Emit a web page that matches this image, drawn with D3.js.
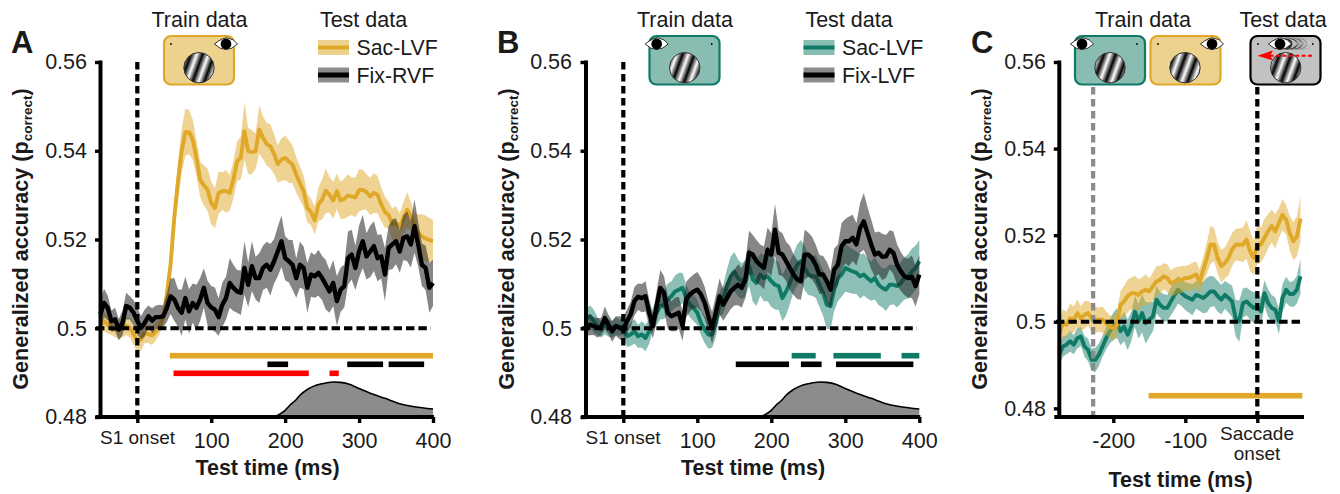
<!DOCTYPE html>
<html><head><meta charset="utf-8">
<script src="https://cdn.jsdelivr.net/npm/d3@7"></script>
<style>
html,body{margin:0;padding:0;background:#fff;overflow:hidden}
text{font-family:"Liberation Sans",Arial,sans-serif;fill:#1a1a1a}
</style></head><body><svg id="c" width="1340" height="494"></svg>
<script>
// ---------- DATA ----------
const sacLvfA=[.5008,.5016,.5008,.5001,.4998,.4996,.5002,.5005,.5001,.4986,
.4972,.4974,.4989,.4987,.4984,.4993,.5005,.5023,.5076,.5143,
.5249,.5331,.5399,.5442,.5442,.5425,.5384,.5335,.5322,.5312,
.5282,.5271,.5305,.5309,.5309,.5305,.5335,.5376,.5384,.5444,
.5399,.5397,.5399,.5448,.5429,.5415,.5410,.5393,.5370,.5380,
.5384,.5376,.5369,.5346,.5327,.5309,.5271,.5262,.5243,.5279,
.5290,.5310,.5301,.5288,.5309,.5288,.5292,.5299,.5297,.5295,
.5311,.5312,.5307,.5297,.5305,.5301,.5279,.5262,.5255,.5235,
.5237,.5228,.5249,.5267,.5252,.5230,.5215,.5207,.5202,.5199,
.5196];
const sacLvfAErr=[.0018,.0022,.0020,.0016,.0018,.0020,.0022,.0020,.0022,.0024,
.0026,.0024,.0022,.0020,.0022,.0020,.0018,.0016,.0020,.0025,
.0035,.0045,.0050,.0053,.0050,.0045,.0040,.0040,.0045,.0048,
.0048,.0045,.0048,.0042,.0048,.0040,.0042,.0045,.0048,.0065,
.0052,.0050,.0040,.0055,.0048,.0048,.0050,.0045,.0042,.0048,
.0050,.0048,.0042,.0040,.0038,.0035,.0032,.0030,.0032,.0038,
.0045,.0050,.0040,.0042,.0040,.0042,.0045,.0048,.0042,.0045,
.0048,.0045,.0040,.0042,.0045,.0042,.0038,.0035,.0030,.0035,
.0038,.0032,.0035,.0040,.0032,.0030,.0042,.0050,.0052,.0050,
.0048];
const fixRvfA=[.5031,.5057,.5046,.5016,.5020,.4997,.5012,.5050,.5046,.5035,
.5016,.5001,.5012,.5027,.5017,.5025,.5025,.5027,.5046,.5072,
.5065,.5046,.5035,.5068,.5038,.5057,.5046,.5065,.5091,.5057,
.5047,.5042,.5025,.5053,.5068,.5102,.5091,.5083,.5080,.5136,
.5098,.5140,.5113,.5113,.5136,.5143,.5132,.5151,.5173,.5196,
.5158,.5151,.5143,.5113,.5143,.5136,.5091,.5121,.5117,.5125,
.5113,.5098,.5083,.5102,.5061,.5087,.5095,.5158,.5166,.5136,
.5173,.5196,.5162,.5173,.5185,.5158,.5162,.5121,.5181,.5189,
.5196,.5173,.5204,.5207,.5189,.5230,.5189,.5143,.5136,.5091,
.5102];
const fixRvfAErr=[.0030,.0032,.0028,.0024,.0026,.0024,.0028,.0030,.0026,.0028,
.0030,.0026,.0030,.0024,.0028,.0026,.0028,.0024,.0032,.0040,
.0048,.0042,.0052,.0048,.0050,.0044,.0052,.0048,.0044,.0050,
.0048,.0050,.0042,.0050,.0048,.0056,.0052,.0048,.0050,.0060,
.0050,.0056,.0048,.0056,.0050,.0052,.0058,.0050,.0056,.0058,
.0050,.0048,.0056,.0044,.0052,.0048,.0056,.0050,.0048,.0052,
.0050,.0056,.0048,.0052,.0056,.0050,.0048,.0060,.0056,.0050,
.0058,.0060,.0052,.0058,.0056,.0052,.0050,.0060,.0050,.0056,
.0052,.0048,.0050,.0056,.0052,.0060,.0050,.0048,.0050,.0056,
.0052];
const sacLvfB=[.5023,.5027,.5016,.5005,.4997,.5008,.5001,.4997,.5005,.5001,
.5005,.4982,.4986,.4993,.4982,.4986,.4978,.4993,.5020,.5035,
.5050,.5053,.5065,.5072,.5083,.5087,.5091,.5068,.5053,.5046,
.5035,.5012,.4997,.4986,.4986,.5012,.5053,.5065,.5095,.5117,
.5128,.5113,.5106,.5113,.5140,.5110,.5102,.5121,.5113,.5117,
.5106,.5098,.5095,.5068,.5083,.5102,.5125,.5143,.5151,.5136,
.5121,.5117,.5117,.5098,.5080,.5053,.5050,.5087,.5113,.5121,
.5136,.5132,.5128,.5125,.5117,.5121,.5113,.5106,.5113,.5098,
.5091,.5087,.5098,.5098,.5095,.5102,.5113,.5117,.5128,.5136,
.5151];
const sacLvfBErr=[.0022,.0024,.0026,.0020,.0018,.0022,.0020,.0018,.0020,.0018,
.0020,.0024,.0026,.0028,.0026,.0030,.0030,.0028,.0026,.0028,
.0030,.0032,.0036,.0034,.0036,.0038,.0034,.0030,.0028,.0030,
.0028,.0028,.0030,.0032,.0030,.0032,.0028,.0032,.0038,.0044,
.0044,.0042,.0040,.0042,.0044,.0050,.0052,.0048,.0052,.0056,
.0058,.0056,.0054,.0052,.0054,.0048,.0044,.0046,.0048,.0050,
.0046,.0044,.0048,.0050,.0052,.0054,.0052,.0048,.0052,.0050,
.0054,.0052,.0050,.0048,.0050,.0048,.0046,.0044,.0048,.0046,
.0044,.0048,.0046,.0044,.0048,.0046,.0048,.0050,.0052,.0050,
.0048];
const fixLvfB=[.5005,.5008,.5005,.5001,.5003,.5023,.5008,.4993,.5005,.5001,
.4997,.5016,.5031,.5061,.5071,.5068,.5072,.5035,.5005,.5050,
.5091,.5080,.5035,.5027,.5031,.5035,.5005,.5065,.5076,.5083,
.5087,.5076,.5057,.5027,.5001,.5035,.5072,.5053,.5068,.5083,
.5091,.5098,.5091,.5110,.5170,.5166,.5151,.5143,.5136,.5177,
.5166,.5222,.5170,.5166,.5151,.5136,.5121,.5110,.5106,.5166,
.5166,.5158,.5143,.5121,.5121,.5106,.5087,.5132,.5143,.5185,
.5196,.5196,.5204,.5189,.5226,.5241,.5215,.5189,.5166,.5170,
.5161,.5162,.5177,.5170,.5143,.5128,.5117,.5113,.5116,.5095,
.5121];
const fixLvfBErr=[.0022,.0024,.0020,.0022,.0020,.0026,.0022,.0024,.0022,.0026,
.0028,.0026,.0028,.0032,.0030,.0032,.0034,.0030,.0028,.0034,
.0040,.0038,.0036,.0034,.0038,.0036,.0034,.0040,.0038,.0038,
.0040,.0038,.0036,.0034,.0036,.0038,.0040,.0036,.0038,.0040,
.0040,.0046,.0044,.0042,.0050,.0044,.0048,.0046,.0048,.0050,
.0048,.0058,.0050,.0048,.0044,.0050,.0046,.0044,.0042,.0056,
.0050,.0048,.0046,.0044,.0042,.0044,.0042,.0048,.0046,.0052,
.0050,.0056,.0052,.0048,.0056,.0064,.0058,.0056,.0050,.0048,
.0052,.0048,.0044,.0048,.0046,.0044,.0042,.0044,.0048,.0046,
.0044];
const sacLvfC=[.4970,.4997,.4993,.5008,.5005,.5020,.5008,.5016,.5020,.5008,
.5005,.5005,.5005,.4997,.4989,.4985,.4993,.5039,.5047,.5059,
.5066,.5066,.5062,.5070,.5074,.5070,.5082,.5093,.5097,.5105,
.5101,.5089,.5093,.5097,.5097,.5101,.5101,.5105,.5109,.5093,
.5120,.5147,.5178,.5178,.5147,.5128,.5136,.5147,.5167,.5178,
.5178,.5178,.5190,.5163,.5147,.5178,.5178,.5194,.5209,.5221,
.5209,.5228,.5247,.5236,.5205,.5186,.5197,.5238];
const sacLvfCErr=[.0030,.0032,.0030,.0034,.0030,.0032,.0028,.0032,.0028,.0034,
.0030,.0028,.0030,.0028,.0026,.0028,.0030,.0032,.0036,.0038,
.0036,.0040,.0036,.0032,.0036,.0030,.0032,.0036,.0032,.0030,
.0032,.0030,.0032,.0030,.0032,.0028,.0030,.0032,.0030,.0028,
.0032,.0036,.0044,.0038,.0036,.0038,.0036,.0040,.0038,.0036,
.0038,.0040,.0044,.0046,.0040,.0046,.0040,.0044,.0040,.0038,
.0040,.0034,.0036,.0034,.0040,.0044,.0046,.0052];
const teal_C=[.4924,.4943,.4947,.4955,.4947,.4962,.4966,.4943,.4935,.4912,
.4912,.4924,.4943,.4962,.4978,.4989,.4997,.4978,.4989,.4970,
.4989,.5024,.5001,.5020,.4997,.5005,.5012,.5051,.5039,.5032,
.5032,.5047,.5062,.5074,.5066,.5059,.5055,.5051,.5062,.5059,
.5055,.5062,.5070,.5070,.5059,.5051,.5062,.5055,.5047,.5008,
.5001,.5043,.5047,.5039,.5032,.5035,.5024,.5066,.5043,.5032,
.5028,.5001,.5055,.5074,.5064,.5064,.5074,.5105];
const teal_CErr=[.0026,.0024,.0022,.0024,.0022,.0024,.0022,.0024,.0026,.0026,
.0028,.0026,.0024,.0026,.0028,.0032,.0034,.0032,.0034,.0036,
.0034,.0036,.0040,.0044,.0048,.0040,.0034,.0032,.0030,.0032,
.0030,.0032,.0034,.0032,.0030,.0032,.0034,.0036,.0032,.0034,
.0036,.0040,.0036,.0034,.0036,.0034,.0032,.0034,.0036,.0042,
.0048,.0034,.0032,.0034,.0036,.0034,.0032,.0030,.0032,.0030,
.0028,.0030,.0032,.0030,.0028,.0030,.0032,.0040];
const densityTimes=[185,190,200,206,213,220,230,238,250,265,275,288,300,319,335,355,375,400];
const densityValues=[.4800,.4804,.4815,.4826,.4836,.4849,.4862,.4869,.4875,.4879,.4878,.4873,.4864,.4851,.4842,.4830,.4823,.4818];
const sigGoldA=[[44,400]];
const sigBlackA=[[176,204],[284,332.5],[340,388]];
const sigRedA=[[49,232],[260,272.5]];
const sigTealB=[[227.5,260],[284,348],[376,400]];
const sigBlackB=[[152,224],[240,268],[287.5,392]];
const sigGoldC=[[-151,62.5]];
const timesAB=d3.range(-50,401,5);
const timesC=d3.range(-275,61,5);
const yTicks=[.48,.5,.52,.54,.56];
const xTicksAB=[100,200,300,400];
const xTicksC=[-200,-100];
const GOLD='#DFA828',TEAL='#0F7A66',GOLDF='#EDD28E',TEALF='#8ABDB2';

// ---------- DRAW ----------
const svg=d3.select('#c');
const defs=svg.append('defs');
const gr=defs.append('linearGradient').attr('id','grating').attr('gradientUnits','userSpaceOnUse')
 .attr('x1',0).attr('y1',0).attr('x2',11).attr('y2',0).attr('spreadMethod','repeat')
 .attr('gradientTransform','rotate(20)');
[[0,'#000'],[.5,'#fff'],[1,'#000']].forEach(s=>gr.append('stop').attr('offset',s[0]).attr('stop-color',s[1]));

const fmtY=d=>d===.5?'0.5':d3.format('.2f')(d);
function sigBars(g,x,segs,y,c){
 g.selectAll(null).data(segs).join('rect').attr('x',d=>x(d[0])).attr('width',d=>x(d[1])-x(d[0]))
  .attr('y',y-2.8).attr('height',5.6).attr('fill',c);
}
function band(g,x,y,t,v,e,fill,op){
 const a=d3.area().x((d,i)=>x(t[i])).y0((d,i)=>y(d-e[i])).y1((d,i)=>y(d+e[i]));
 g.append('path').attr('d',a(v)).attr('fill',fill).attr('fill-opacity',op);
}
function trace(g,x,y,t,v,line,lw){
 const l=d3.line().x((d,i)=>x(t[i])).y(d=>y(d));
 g.append('path').attr('d',l(v)).attr('fill','none').attr('stroke',line).attr('stroke-width',lw).attr('stroke-linejoin','round');
}
function axes(o){
 const {x,y,axisX,endX,labRight,ylabX,xLabX,xLabY}=o;
 const ga=svg.append('g').attr('transform',`translate(${axisX},0)`).call(d3.axisLeft(y).tickValues(yTicks).tickFormat(fmtY).tickSize(5.5).tickPadding(axisX-labRight-5.5));
 ga.select('.domain').attr('stroke','#000').attr('stroke-width',4).attr('d',`M0,60.5V418.5`);
 ga.selectAll('.tick line').attr('stroke','#000').attr('stroke-width',3.4);
 ga.selectAll('.tick text').attr('font-size',21.5).attr('font-family','Liberation Sans').attr('fill','#1a1a1a');
 const gx=svg.append('g').attr('transform','translate(0,417)').call(d3.axisBottom(x).tickValues(o.xt).tickFormat(d=>d===0?'':String(d)).tickSize(6).tickPadding(10));
 gx.select('.domain').attr('stroke','#000').attr('stroke-width',4).attr('d',`M${axisX-5},0H${endX+1}`);
 gx.selectAll('.tick line').attr('stroke','#000').attr('stroke-width',3.4);
 gx.selectAll('.tick text').attr('font-size',21.5).attr('font-family','Liberation Sans').attr('fill','#1a1a1a');
 const yl=svg.append('text').attr('transform',`translate(${ylabX},239) rotate(-90)`).attr('text-anchor','middle').attr('font-size',21.6).attr('font-weight','bold');
 yl.append('tspan').text('Generalized accuracy (p');
 yl.append('tspan').attr('font-size',13.5).attr('dy',4).text('correct');
 yl.append('tspan').attr('dy',-4).text(')');
 svg.append('text').attr('x',xLabX).attr('y',xLabY).attr('text-anchor','middle').attr('font-size',21.5).attr('font-weight','bold').text('Test time (ms)');
}
function hzero(x,y,x0,x1){
 svg.append('line').attr('x1',x0).attr('x2',x1).attr('y1',y(.5)).attr('y2',y(.5)).attr('stroke','#000').attr('stroke-width',3.8).attr('stroke-dasharray','8.4 4');
}
function vline(xp,y0,y1,c){
 svg.append('line').attr('x1',xp).attr('x2',xp).attr('y1',y0).attr('y2',y1).attr('stroke',c).attr('stroke-width',4.2).attr('stroke-dasharray','7.4 4.6');
}
function density(x,y){
 const g=svg.append('g');
 const a=d3.area().curve(d3.curveMonotoneX).x((d,i)=>x(densityTimes[i])).y0(y(.48)).y1(d=>y(d));
 g.append('path').attr('d',a(densityValues)).attr('fill','#8c8c8c');
 const l=d3.line().curve(d3.curveMonotoneX).x((d,i)=>x(densityTimes[i])).y(d=>y(d));
 g.append('path').attr('d',l(densityValues)).attr('fill','none').attr('stroke','#000').attr('stroke-width',1.6);
}
function eye(cx,cy,op){
 const g=svg.append('g').attr('transform',`translate(${cx},${cy})`).attr('opacity',op===undefined?1:op);
 g.append('path').attr('d','M-11.5,0Q-3,-7 2,-6Q8,-5 11.5,0Q6,5.5 0,5.5Q-6,5.5 -11.5,0Z').attr('fill','#fff').attr('stroke','#000').attr('stroke-width',.8);
 g.append('circle').attr('r',5.4).attr('fill','#000');
}
function screen(x0,fill,stroke,eyeX,dots,circX){
 svg.append('rect').attr('x',x0).attr('y',36).attr('width',70).attr('height',48.5).attr('rx',7).attr('fill',fill).attr('stroke',stroke).attr('stroke-width',2.2);
 dots.forEach(d=>svg.append('circle').attr('cx',d).attr('cy',44).attr('r',.9).attr('fill','#000'));
 svg.append('circle').attr('cx',circX).attr('cy',67.7).attr('r',15.2).attr('fill','url(#grating)').attr('stroke','#333').attr('stroke-width',1);
 if(eyeX!==null) eye(eyeX,44);
}
function legend(x0,rows){
 rows.forEach(r=>{
  svg.append('rect').attr('x',x0).attr('y',r.y-7.5).attr('width',31).attr('height',15).attr('fill',r.f);
  svg.append('line').attr('x1',x0).attr('x2',x0+31).attr('y1',r.y).attr('y2',r.y).attr('stroke',r.c).attr('stroke-width',r.w);
  svg.append('text').attr('x',x0+38.5).attr('y',r.y+7.5).attr('font-size',21.3).text(r.t);
 });
}
function head(x,t){svg.append('text').attr('x',x).attr('y',27).attr('text-anchor','middle').attr('font-size',21.5).text(t);}
function letter(x,t){svg.append('text').attr('x',x).attr('y',53).attr('font-size',31).attr('font-weight','bold').attr('fill','#000').text(t);}

const yAB=d3.scaleLinear().domain([.48,.56]).range([417,62]);
const yC=d3.scaleLinear().domain([.478,.56]).range([417,62]);
const LW_C=3.9,LW_K=4.4;

// Panel A
{
 const x=d3.scaleLinear().domain([0,400]).range([137.3,433]);
 const g=svg.append('g');
 density(x,yAB);
 band(g,x,yAB,timesAB,sacLvfA,sacLvfAErr,GOLD,.5);
 trace(g,x,yAB,timesAB,sacLvfA,GOLD,LW_C);
 band(g,x,yAB,timesAB,fixRvfA,fixRvfAErr,'#222',.55);
 trace(g,x,yAB,timesAB,fixRvfA,'#000',LW_K);
 sigBars(g,x,sigGoldA,355.7,GOLD);sigBars(g,x,sigBlackA,364.3,'#000');sigBars(g,x,sigRedA,373.3,'#f00');
 hzero(x,yAB,96,431);vline(x(0),62,417,'#000');
 axes({x,y:yAB,axisX:100.5,endX:433,labRight:87,ylabX:28,xLabX:267.5,xLabY:475,xt:[0].concat(xTicksAB)});
 svg.append('text').attr('x',137.5).attr('y',444).attr('text-anchor','middle').attr('font-size',19).text('S1 onset');
 head(199.5,'Train data');head(363.5,'Test data');letter(11,'A');
 screen(164,GOLDF,GOLD,226,[171],199);
 legend(318,[{y:47.5,f:GOLDF,c:GOLD,w:4,t:'Sac-LVF'},{y:75,f:'#8c8c8c',c:'#000',w:5,t:'Fix-RVF'}]);
}
// Panel B
{
 const x=d3.scaleLinear().domain([0,400]).range([623.3,919.3]);
 const g=svg.append('g');
 density(x,yAB);
 band(g,x,yAB,timesAB,sacLvfB,sacLvfBErr,TEAL,.48);
 trace(g,x,yAB,timesAB,sacLvfB,TEAL,LW_C);
 band(g,x,yAB,timesAB,fixLvfB,fixLvfBErr,'#222',.55);
 trace(g,x,yAB,timesAB,fixLvfB,'#000',LW_K);
 sigBars(g,x,sigTealB,355.7,TEAL);sigBars(g,x,sigBlackB,364.3,'#000');
 hzero(x,yAB,582,917);vline(x(0),62,417,'#000');
 axes({x,y:yAB,axisX:586,endX:919.3,labRight:572,ylabX:514,xLabX:753,xLabY:475,xt:[0].concat(xTicksAB)});
 svg.append('text').attr('x',623).attr('y',444).attr('text-anchor','middle').attr('font-size',19).text('S1 onset');
 head(685,'Train data');head(849,'Test data');letter(497,'B');
 screen(649.5,TEALF,TEAL,656.7,[711.7],684.7);
 legend(803.5,[{y:47.5,f:TEALF,c:TEAL,w:4,t:'Sac-LVF'},{y:75,f:'#8c8c8c',c:'#000',w:5,t:'Fix-LVF'}]);
}
// Panel C
{
 const x=d3.scaleLinear().domain([-200,0]).range([1113.3,1257.3]);
 const g=svg.append('g');
 band(g,x,yC,timesC,teal_C,teal_CErr,TEAL,.48);
 trace(g,x,yC,timesC,teal_C,TEAL,LW_C);
 band(g,x,yC,timesC,sacLvfC,sacLvfCErr,GOLD,.5);
 trace(g,x,yC,timesC,sacLvfC,GOLD,LW_C);
 sigBars(g,x,sigGoldC,395.7,GOLD);
 vline(x(-228),87,417,'#8a8a8a');vline(x(0),87,417,'#000');
 hzero(x,yC,1056,1303);
 axes({x,y:yC,axisX:1059.3,endX:1303,labRight:1046,ylabX:987,xLabX:1180.5,xLabY:487,xt:[0].concat(xTicksC)});
 [['Saccade',440],['onset',460]].forEach(d=>svg.append('text').attr('x',1257).attr('y',d[1]).attr('text-anchor','middle').attr('font-size',19).text(d[0]));
 head(1143,'Train data');head(1283,'Test data');letter(971,'C');
 screen(1075,TEALF,TEAL,1082,[1137],1110);
 screen(1150.5,GOLDF,GOLD,1212,[1158],1185);
 screen(1250.5,'#c2c2c2','#000',null,[1258,1312.7],1285.7);
 [[1302,.15],[1297,.25],[1292,.4],[1287,.6]].forEach(d=>eye(d[0],44,d[1]));
 eye(1280,44);
 svg.append('line').attr('x1',1312).attr('x2',1268).attr('y1',55.7).attr('y2',55.7).attr('stroke','#f00').attr('stroke-width',2).attr('stroke-dasharray','4 2.4');
 svg.append('path').attr('d','M1257.5,55.7L1273,50.5L1270,55.7L1273,60.5Z').attr('fill','#f00');
}
</script></body></html>
